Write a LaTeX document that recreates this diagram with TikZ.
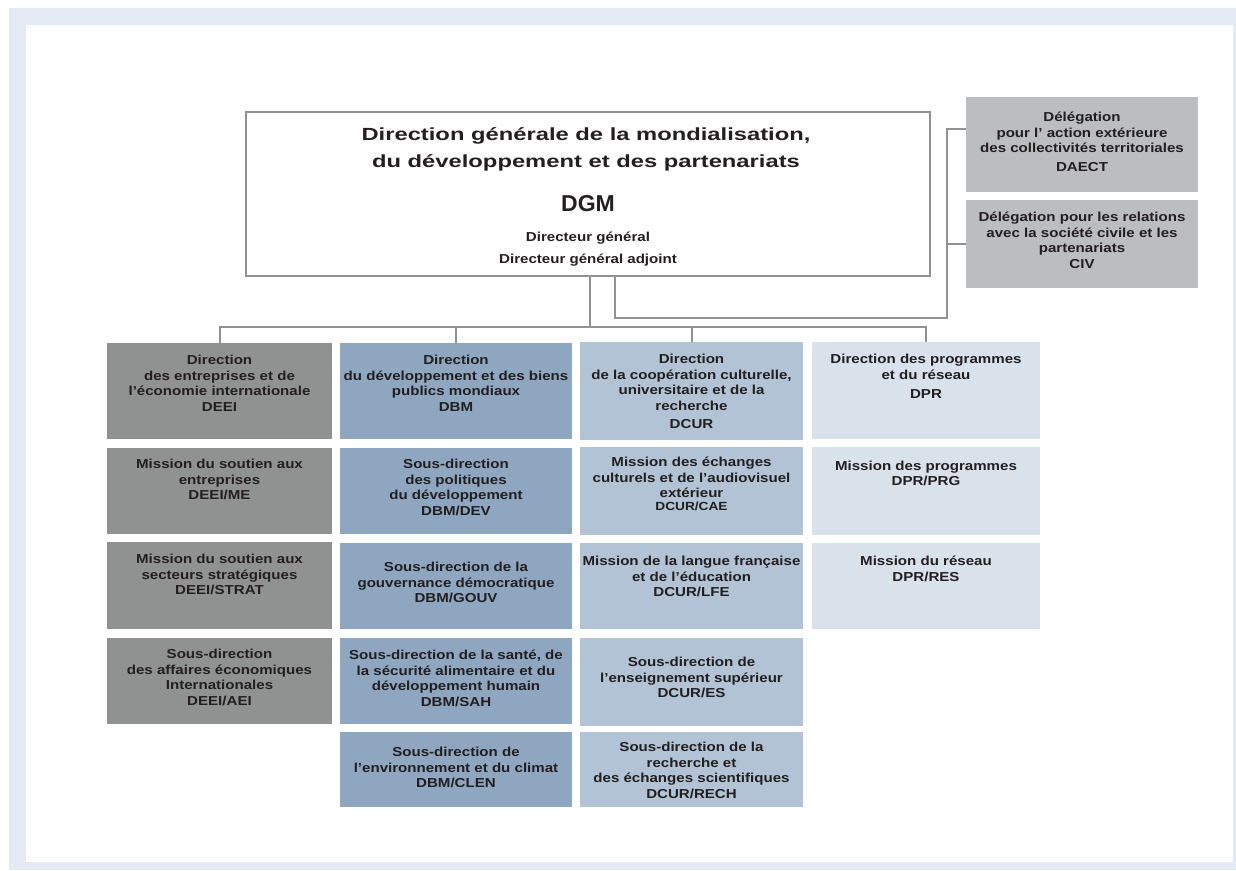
\documentclass[tikz,border=0pt]{standalone}
\usepackage{fontspec}
\setmainfont{Liberation Sans}
\newfontfamily\fa{Liberation Sans}[FakeStretch=1.16]
\newfontfamily\fb{Liberation Sans}[FakeStretch=1.35]
\usetikzlibrary{fit}
\definecolor{frame}{HTML}{E4EBF5}
\definecolor{ink}{HTML}{231F20}
\definecolor{cA}{HTML}{909291}
\definecolor{cB}{HTML}{8EA6BF}
\definecolor{cC}{HTML}{B1C3D4}
\definecolor{cD}{HTML}{D9E1EB}
\definecolor{cDel}{HTML}{BCBDBF}
\definecolor{line}{HTML}{8F9193}
\begin{document}
\begin{tikzpicture}[x=1pt,y=-1pt,
  box/.style={inner sep=0pt, outer sep=0pt, draw=none},
  txt/.style={anchor=north, align=center, inner sep=0pt, text=ink,
    font=\fa\bfseries\fontsize{13}{15.6}\selectfont,
    execute at begin node={\rule{0pt}{11pt}}},
  conn/.style={draw=line, line width=2pt}]
\useasboundingbox (0,0) rectangle (1236,870);
\fill[frame] (9,8) rectangle (1236,870);
\fill[white] (26,25) rectangle (1233,862);

% main box
\node[box, fit={(246,112) (930,276)}, draw=line, line width=2pt, fill=white] (dgm) {};
\node[anchor=base, inner sep=0pt, text=ink, align=center, font=\fb\bfseries\fontsize{17.6}{27}\selectfont] (title) at (586,167)
  {Direction générale de la mondialisation,\\du développement et des partenariats};
\node[anchor=base, inner sep=0pt, text=ink, font=\bfseries\fontsize{23}{26}\selectfont] (dgmt) at (588,211) {DGM};
\node[anchor=base, inner sep=0pt, text=ink, font=\fa\bfseries\fontsize{13}{15}\selectfont] (dg1) at (588,241) {Directeur général};
\node[anchor=base, inner sep=0pt, text=ink, font=\fa\bfseries\fontsize{13}{15}\selectfont] (dg2) at (588,263) {Directeur général adjoint};

% delegations
\node[box, fill=cDel, fit={(966,97) (1198,192)}] (daect) {};
\node[txt] (tdaect) at (1082,111.7) {Délégation\\pour l’ action extérieure\\des collectivités territoriales\\[3pt]DAECT};
\node[box, fill=cDel, fit={(966,200) (1198,288)}] (civ) {};
\node[txt] (tciv) at (1082,212) {Délégation pour les relations\\avec la société civile et les\\partenariats\\CIV};

% column A
\node[box, fill=cA, fit={(107,343) (332,439)}] (deei) {};
\node[box, fill=cA, fit={(107,448) (332,534)}] (deeime) {};
\node[box, fill=cA, fit={(107,542) (332,629)}] (deeistrat) {};
\node[box, fill=cA, fit={(107,638) (332,724)}] (deeiaei) {};
\node[txt] (t1) at (219.5,355) {Direction\\des entreprises et de\\l’économie internationale\\DEEI};
\node[txt] (t2) at (219.5,459) {Mission du soutien aux\\entreprises\\DEEI/ME};
\node[txt] (t3) at (219.5,554) {Mission du soutien aux\\secteurs stratégiques\\DEEI/STRAT};
\node[txt] (t4) at (219.5,649) {Sous-direction\\des affaires économiques\\Internationales\\DEEI/AEI};

% column B
\node[box, fill=cB, fit={(340,343) (572,439)}] (dbm) {};
\node[box, fill=cB, fit={(340,448) (572,534)}] (dbmdev) {};
\node[box, fill=cB, fit={(340,543) (572,629)}] (dbmgouv) {};
\node[box, fill=cB, fit={(340,638) (572,724)}] (dbmsah) {};
\node[box, fill=cB, fit={(340,732) (572,807)}] (dbmclen) {};
\node[txt] (t5) at (456,355) {Direction\\du développement et des biens\\publics mondiaux\\DBM};
\node[txt] (t6) at (456,459) {Sous-direction\\des politiques\\du développement\\DBM/DEV};
\node[txt] (t7) at (456,562) {Sous-direction de la\\gouvernance démocratique\\DBM/GOUV};
\node[txt] (t8) at (456,650) {Sous-direction de la santé, de\\la sécurité alimentaire et du\\développement humain\\DBM/SAH};
\node[txt] (t9) at (456,747) {Sous-direction de\\l’environnement et du climat\\DBM/CLEN};

% column C
\node[box, fill=cC, fit={(580,342) (803,440)}] (dcur) {};
\node[box, fill=cC, fit={(580,447) (803,535)}] (dcurcae) {};
\node[box, fill=cC, fit={(580,543) (803,629)}] (dcurlfe) {};
\node[box, fill=cC, fit={(580,638) (803,726)}] (dcures) {};
\node[box, fill=cC, fit={(580,732) (803,807)}] (dcurrech) {};
\node[txt] (t10) at (691.5,354) {Direction\\de la coopération culturelle,\\universitaire et de la\\recherche\\[2pt]DCUR};
\node[txt] (t11) at (691.5,457) {Mission des échanges\\culturels et de l’audiovisuel\\extérieur\\[-3pt]{\fontsize{11.8}{12}\selectfont DCUR/CAE}};
\node[txt] (t12) at (691.5,556) {Mission de la langue française\\et de l’éducation\\DCUR/LFE};
\node[txt] (t13) at (691.5,657) {Sous-direction de\\l’enseignement supérieur\\DCUR/ES};
\node[txt] (t14) at (691.5,742) {Sous-direction de la\\recherche et\\des échanges scientifiques\\DCUR/RECH};

% column D
\node[box, fill=cD, fit={(812,342) (1040,439)}] (dpr) {};
\node[box, fill=cD, fit={(812,447) (1040,535)}] (dprprg) {};
\node[box, fill=cD, fit={(812,543) (1040,629)}] (dprres) {};
\node[txt] (t15) at (926,354) {Direction des programmes\\et du réseau\\[4pt]DPR};
\node[txt] (t16) at (926,460.7) {Mission des programmes\\DPR/PRG};
\node[txt] (t17) at (926,556) {Mission du réseau\\DPR/RES};

% connectors
\coordinate (j0) at (590,327);
\coordinate (d0) at (615,318);
\coordinate (k0) at (947,318);
\coordinate (da) at ([yshift=15.5pt]daect.west);
\draw[conn] (dgm.south -| j0) -- (j0);
\draw[conn] (deei.north) |- (dpr.north |- j0) -- (dpr.north);
\draw[conn] (dbm.north) -- (dbm.north |- j0);
\draw[conn] (dcur.north) -- (dcur.north |- j0);
\draw[conn] (dgm.south -| d0) -- (d0) -- (k0) -- (k0 |- da) -- (da);
\draw[conn] (k0 |- civ.west) -- (civ.west);
\end{tikzpicture}
\end{document}
